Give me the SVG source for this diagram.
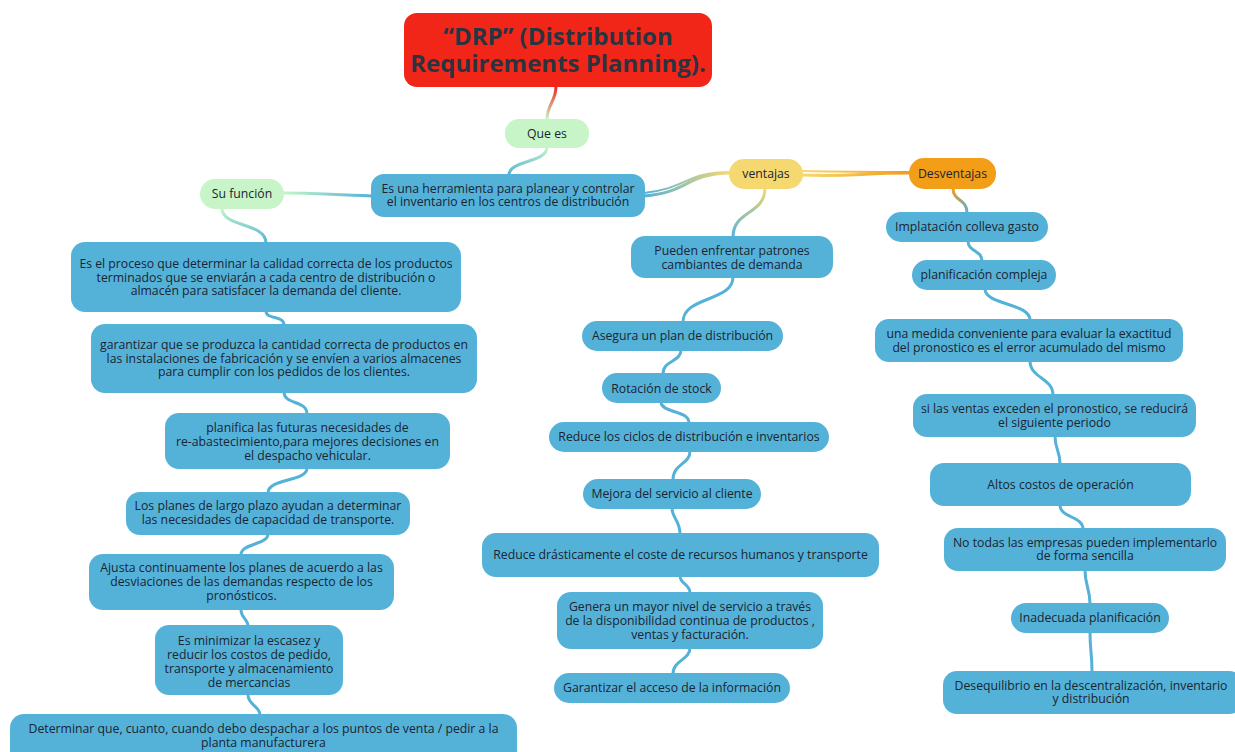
<svg xmlns="http://www.w3.org/2000/svg" width="1235" height="752" viewBox="0 0 1235 752">
<style>
.b{fill:#54B2D9;}
.g{fill:#C7F5C7;}
.y{fill:#F6D870;}
.o{fill:#F29E18;}
.r{fill:#F22618;}
text{font-family:"Open Sans","Liberation Sans",sans-serif;font-size:12.25px;fill:#1B2430;text-anchor:middle;}
.t{font-size:24px;font-weight:700;fill:#2A3440;}
.c{fill:none;stroke:#54B2D9;stroke-width:3;stroke-linecap:round;}
</style>
<defs>
<linearGradient id="gRG" gradientUnits="userSpaceOnUse" x1="0" y1="87" x2="0" y2="119"><stop offset="0" stop-color="#F22618"/><stop offset="1" stop-color="#C7F5C7"/></linearGradient>
<linearGradient id="gGB" gradientUnits="userSpaceOnUse" x1="0" y1="148" x2="0" y2="174"><stop offset="0" stop-color="#C7F5C7"/><stop offset="1" stop-color="#54B2D9"/></linearGradient>
<linearGradient id="gBGh" gradientUnits="userSpaceOnUse" x1="371" y1="0" x2="284" y2="0"><stop offset="0" stop-color="#54B2D9"/><stop offset="1" stop-color="#C7F5C7"/></linearGradient>
<linearGradient id="gBY" gradientUnits="userSpaceOnUse" x1="645" y1="0" x2="729" y2="0"><stop offset="0" stop-color="#54B2D9"/><stop offset="1" stop-color="#F6D870"/></linearGradient>
<linearGradient id="gYO" gradientUnits="userSpaceOnUse" x1="803" y1="0" x2="909" y2="0"><stop offset="0" stop-color="#F6D870"/><stop offset="1" stop-color="#F29E18"/></linearGradient>
<linearGradient id="gYB" gradientUnits="userSpaceOnUse" x1="0" y1="189" x2="0" y2="236"><stop offset="0" stop-color="#F6D870"/><stop offset="1" stop-color="#54B2D9"/></linearGradient>
<linearGradient id="gOB" gradientUnits="userSpaceOnUse" x1="0" y1="189" x2="0" y2="212"><stop offset="0" stop-color="#F29E18"/><stop offset="1" stop-color="#54B2D9"/></linearGradient>
<linearGradient id="gGBv" gradientUnits="userSpaceOnUse" x1="0" y1="209" x2="0" y2="242"><stop offset="0" stop-color="#C7F5C7"/><stop offset="1" stop-color="#54B2D9"/></linearGradient>
</defs>
<g id="connectors">
<path class="c" style="stroke:url(#gRG)" d="M556,86 C556,102 547,104 547,120"/>
<path class="c" style="stroke:url(#gGB)" d="M547,147 C547,163 509,160 509,175"/>
<path class="c" style="stroke:url(#gBGh)" d="M372,196 C330,195 320,193 283,193"/>
<path class="c" style="stroke:url(#gBY)" d="M644,196 C690,192 685,174 730,173"/>
<path class="c" style="stroke:url(#gBY);stroke-width:2" d="M644,193 C688,188 686,172 730,172"/>
<path class="c" style="stroke:url(#gYO)" d="M802,175 C850,177 860,173 910,173"/>
<path class="c" style="stroke:url(#gYO);stroke-width:2" d="M802,171 C850,172 860,172 910,172"/>
<path class="c" style="stroke:url(#gYB)" d="M765,188 C765,215 733,210 733,237"/>
<path class="c" style="stroke:url(#gOB)" d="M953,188 C953,202 967,198 967,213"/>
<path class="c" style="stroke:url(#gGBv)" d="M222,208 C222,228 266,222 266,243"/>
<path class="c" d="M266,311 C266,320 284,315 284,325"/>
<path class="c" d="M284,392 C284,405 307,400 307,414"/>
<path class="c" d="M307,468 C307,482 268,478 268,493"/>
<path class="c" d="M268,534 C268,545 241,543 241,555"/>
<path class="c" d="M241,610 C241,618 248,619 248,626"/>
<path class="c" d="M248,695 C248,705 260,706 260,715"/>
<path class="c" d="M733,277 C733,302 683,296 683,322"/>
<path class="c" d="M681,350 C681,362 663,360 663,374"/>
<path class="c" d="M661,402 C661,413 689,410 689,423"/>
<path class="c" d="M690,451 C690,465 673,463 673,480"/>
<path class="c" d="M672,508 C672,518 680,520 680,534"/>
<path class="c" d="M680,576 C680,584 690,584 690,593"/>
<path class="c" d="M690,648 C690,660 673,660 673,674"/>
<path class="c" d="M968,241 C968,252 982,250 982,261"/>
<path class="c" d="M985,289 C985,305 1030,303 1030,320"/>
<path class="c" d="M1030,361 C1030,378 1053,378 1053,395"/>
<path class="c" d="M1055,436 C1055,450 1060,450 1060,464"/>
<path class="c" d="M1060,505 C1060,518 1083,516 1083,529"/>
<path class="c" d="M1085,570 C1085,586 1090,588 1090,604"/>
<path class="c" d="M1090,632 C1090,652 1092,652 1092,672"/>
</g>
<g id="title"><rect class="r" x="404" y="13" width="308" height="74" rx="13"/><text class="t" x="558" y="45">“DRP” (Distribution<tspan x="558" dy="27">Requirements Planning).</tspan></text></g>
<g id="que-es"><rect class="g" x="505" y="119" width="84" height="29" rx="14"/><text x="547" y="138">Que es</text></g>
<g id="herramienta"><rect class="b" x="371" y="174" width="274" height="43" rx="13"/><text x="508" y="193">Es una herramienta para planear y controlar<tspan x="508" dy="13">el inventario en los centros de distribución</tspan></text></g>
<g id="su-funcion"><rect class="g" x="200" y="179" width="84" height="30" rx="15"/><text x="242" y="198">Su función</text></g>
<g id="ventajas"><rect class="y" x="729" y="159" width="74" height="30" rx="15"/><text x="766" y="178">ventajas</text></g>
<g id="desventajas"><rect class="o" x="909" y="158" width="87" height="31" rx="15"/><text x="952.5" y="178">Desventajas</text></g>

<g id="f1"><rect class="b" x="71" y="242" width="390" height="70" rx="14"/><text x="266" y="268">Es el proceso que determinar la calidad correcta de los productos<tspan x="266" dy="13.5">terminados que se enviarán a cada centro de distribución o</tspan><tspan x="266" dy="13.5">almacén para satisfacer la demanda del cliente.</tspan></text></g>
<g id="f2"><rect class="b" x="91" y="324" width="386" height="69" rx="14"/><text x="284" y="349">garantizar que se produzca la cantidad correcta de productos en<tspan x="284" dy="13.5">las instalaciones de fabricación y se envíen a varios almacenes</tspan><tspan x="284" dy="13.5">para cumplir con los pedidos de los clientes.</tspan></text></g>
<g id="f3"><rect class="b" x="165" y="413" width="285" height="56" rx="14"/><text x="307.5" y="432">planifica las futuras necesidades de<tspan x="307.5" dy="14">re-abastecimiento,para mejores decisiones en</tspan><tspan x="307.5" dy="14">el despacho vehicular.</tspan></text></g>
<g id="f4"><rect class="b" x="126" y="492" width="284" height="43" rx="14"/><text x="268" y="510">Los planes de largo plazo ayudan a determinar<tspan x="268" dy="14">las necesidades de capacidad de transporte.</tspan></text></g>
<g id="f5"><rect class="b" x="89" y="554" width="305" height="56" rx="14"/><text x="241.5" y="572">Ajusta continuamente los planes de acuerdo a las<tspan x="241.5" dy="14">desviaciones de las demandas respecto de los</tspan><tspan x="241.5" dy="14">pronósticos.</tspan></text></g>
<g id="f6"><rect class="b" x="155" y="625" width="188" height="70" rx="14"/><text x="249" y="645">Es minimizar la escasez y<tspan x="249" dy="14">reducir los costos de pedido,</tspan><tspan x="249" dy="14">transporte y almacenamiento</tspan><tspan x="249" dy="14">de mercancias</tspan></text></g>
<g id="f7"><rect class="b" x="10" y="714" width="507" height="50" rx="14"/><text x="263.5" y="733">Determinar que, cuanto, cuando debo despachar a los puntos de venta / pedir a la<tspan x="263.5" dy="14">planta manufacturera</tspan></text></g>

<g id="v1"><rect class="b" x="631" y="236" width="202" height="42" rx="14"/><text x="732" y="255">Pueden enfrentar patrones<tspan x="732" dy="14">cambiantes de demanda</tspan></text></g>
<g id="v2"><rect class="b" x="582" y="321" width="201" height="30" rx="15"/><text x="682.5" y="340">Asegura un plan de distribución</text></g>
<g id="v3"><rect class="b" x="602" y="373" width="119" height="30" rx="15"/><text x="661.5" y="393">Rotación de stock</text></g>
<g id="v4"><rect class="b" x="549" y="422" width="280" height="30" rx="15"/><text x="689" y="441">Reduce los ciclos de distribución e inventarios</text></g>
<g id="v5"><rect class="b" x="583" y="479" width="178" height="30" rx="15"/><text x="672" y="498">Mejora del servicio al cliente</text></g>
<g id="v6"><rect class="b" x="482" y="533" width="397" height="44" rx="14"/><text x="680.5" y="559">Reduce drásticamente el coste de recursos humanos y transporte</text></g>
<g id="v7"><rect class="b" x="557" y="592" width="266" height="57" rx="14"/><text x="690" y="611">Genera un mayor nivel de servicio a través<tspan x="690" dy="14">de la disponibilidad continua de productos ,</tspan><tspan x="690" dy="14">ventas y facturación.</tspan></text></g>
<g id="v8"><rect class="b" x="554" y="673" width="236" height="30" rx="15"/><text x="672" y="692">Garantizar el acceso de la información</text></g>

<g id="d1"><rect class="b" x="886" y="212" width="162" height="30" rx="15"/><text x="967" y="231">Implatación colleva gasto</text></g>
<g id="d2"><rect class="b" x="912" y="260" width="144" height="30" rx="15"/><text x="984" y="279">planificación compleja</text></g>
<g id="d3"><rect class="b" x="875" y="319" width="308" height="43" rx="14"/><text x="1029" y="338">una medida conveniente para evaluar la exactitud<tspan x="1029" dy="14">del pronostico es el error acumulado del mismo</tspan></text></g>
<g id="d4"><rect class="b" x="913" y="394" width="283" height="43" rx="14"/><text x="1054.5" y="413">si las ventas exceden el pronostico, se reducirá<tspan x="1054.5" dy="14">el siguiente periodo</tspan></text></g>
<g id="d5"><rect class="b" x="930" y="463" width="261" height="43" rx="14"/><text x="1060.5" y="489">Altos costos de operación</text></g>
<g id="d6"><rect class="b" x="944" y="528" width="282" height="43" rx="14"/><text x="1085" y="547">No todas las empresas pueden implementarlo<tspan x="1085" dy="13">de forma sencilla</tspan></text></g>
<g id="d7"><rect class="b" x="1011" y="603" width="158" height="30" rx="15"/><text x="1090" y="622">Inadecuada planificación</text></g>
<g id="d8"><rect class="b" x="943" y="671" width="300" height="43" rx="14"/><text x="1091" y="690">Desequilibrio en la descentralización, inventario<tspan x="1091" dy="13">y distribución</tspan></text></g>
</svg>
